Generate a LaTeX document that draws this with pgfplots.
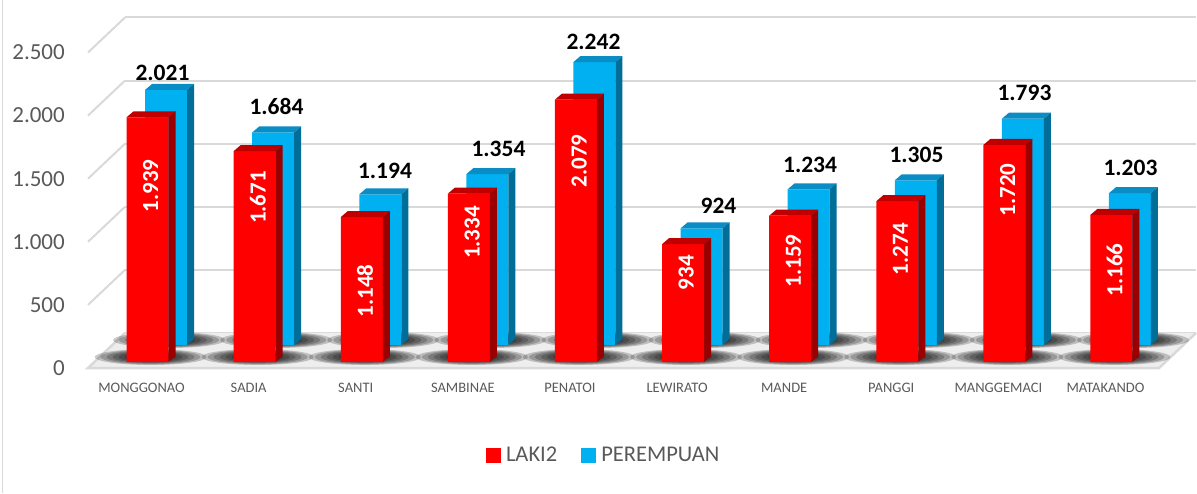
\documentclass[border=0pt]{standalone}
\usepackage{pgfplots}
\pgfplotsset{compat=1.18}
\usepackage{pgfplotstable}
\usepackage{fontspec}
\setmainfont{Carlito}
\definecolor{redface}{HTML}{FF0000}
\definecolor{redtop}{HTML}{C00000}
\definecolor{redside}{HTML}{9A0000}
\definecolor{blueface}{HTML}{00B0F0}
\definecolor{bluetop}{HTML}{0A8CC4}
\definecolor{blueside}{HTML}{006E98}
\definecolor{txtgray}{HTML}{595959}
\definecolor{gridgray}{HTML}{D9D9D9}
\definecolor{floorgray}{HTML}{EEEEEE}

\def\shadowring#1#2{%
  \pgfpathellipse{\pgfpoint{3pt}{5pt}}{\pgfpoint{#1pt}{0pt}}{\pgfpoint{0pt}{#2pt}}%
  \pgfusepath{fill}}
\pgfdeclareplotmark{shadow}{%
  \pgfsetfillcolor{black}\pgfsetfillopacity{0.2}%
  \shadowring{56}{8}\shadowring{50}{7.3}\shadowring{44}{6.6}\shadowring{38}{5.9}%
  \shadowring{32}{5.2}\shadowring{26}{4.5}\shadowring{20}{3.8}}

\def\drawfaces#1#2{%
  \pgfmathsetmacro\H{\h*0.1262}%
  \pgfpathmoveto{\pgfpoint{-21pt}{0pt}}%
  \pgfpathlineto{\pgfpoint{21pt}{0pt}}%
  \pgfpathlineto{\pgfpoint{28pt}{6pt}}%
  \pgfpathlineto{\pgfpoint{-14pt}{6pt}}%
  \pgfpathclose
  \pgfsetfillcolor{#1}\pgfusepath{fill}%
  \pgfpathmoveto{\pgfpoint{21pt}{0pt}}%
  \pgfpathlineto{\pgfpoint{28pt}{6pt}}%
  \pgfpathlineto{\pgfpoint{28pt}{6pt-\H pt}}%
  \pgfpathlineto{\pgfpoint{21pt}{-\H pt}}%
  \pgfpathclose
  \pgfsetfillcolor{#2}\pgfusepath{fill}}

\pgfplotstableread{
x laki perempuan lbl pbl rly bly blx
0 1939 2021 1.939 2.021 1395 2155 -0.033
1 1671 1684 1.671 1.684 1303 1890 1.031
2 1148 1194 1.148 1.194 563 1383 2.044
3 1334 1354 1.334 1.354 1026 1557 3.104
4 2079 2242 2.079 2.242 1593 2405 3.991
5 934 924 934 924 709 1105 5.158
6 1159 1234 1.159 1.234 800 1430 6.013
7 1274 1305 1.274 1.305 895 1506 7.007
8 1720 1793 1.720 1.793 1363 2001 8.015
9 1166 1203 1.166 1.203 729 1406 9.005
}\data

\pgfplotsset{base/.style={scale only axis, width=1071pt, height=315.5pt,
  xmin=-0.5, xmax=9.5, ymin=0, ymax=2500, enlargelimits=false,
  clip=false, anchor=south west}}

\begin{document}
\begin{tikzpicture}
\useasboundingbox (0,0) rectangle (1197pt,493pt);
\draw[gray!30, line width=1.5pt] (2.5pt,0pt) -- (2.5pt,493pt);
% back wall with gridlines
\begin{axis}[base, at={(125pt,160pt)}, axis line style={draw=none},
  major tick length=0pt, xtick=\empty, ytick={0,500,...,2500}, yticklabels={},
  ymajorgrids, major grid style={gridgray, line width=2pt}]
\addplot[draw=none] coordinates {(0,0)};
\end{axis}
% floor and tick labels
\begin{axis}[base, at={(88pt,125pt)}, axis line style={draw=none},
  major tick length=0pt,
  xtick={0,...,9},
  xticklabels={MONGGONAO,SADIA,SANTI,SAMBINAE,PENATOI,LEWIRATO,MANDE,PANGGI,MANGGEMACI,MATAKANDO},
  ytick={0,500,...,2500}, yticklabels={0,500,1.000,1.500,2.000,2.500},
  yticklabel style={font=\fontsize{23}{23}\selectfont, text=txtgray, anchor=east, inner sep=0pt, xshift=-23pt},
  xticklabel style={font=\fontsize{14.5}{14.5}\selectfont, text=txtgray, anchor=north, inner sep=0pt, yshift=-15pt}]
\fill[floorgray] (rel axis cs:0,0) -- (rel axis cs:1,0) -- ++(37pt,35pt)
  -- ([shift={(37pt,35pt)}]rel axis cs:0,0) -- cycle;
\draw[gridgray, line width=2.5pt] ([shift={(37pt,35pt)}]rel axis cs:0,0) -- (rel axis cs:0,0) -- (rel axis cs:1,0) -- ++(37pt,35pt);
\pgfplotsinvokeforeach{500,1000,1500,2000,2500}{
  \draw[gridgray, line width=2pt] (axis cs:-0.5,#1) -- ++(37pt,35pt);
}
\addplot[draw=none] coordinates {(0,0)};
\end{axis}
% floor shadows, back row and front row
\begin{axis}[base, hide axis, at={(112.5pt,148pt)}]
\addplot[only marks, mark=shadow] table[x=x, y expr=0]{\data};
\end{axis}
\begin{axis}[base, hide axis, at={(94pt,131pt)}]
\addplot[only marks, mark=shadow] table[x=x, y expr=0]{\data};
\end{axis}
% back row: PEREMPUAN
\begin{axis}[base, hide axis, at={(112.5pt,148pt)}]
\addplot[ybar, bar width=42pt, bar shift=0pt, fill=blueface, draw=none] table[x=x, y=perempuan]{\data};
\addplot[scatter, only marks, mark=*, mark size=0pt,
  visualization depends on={\thisrow{perempuan}\as\h},
  scatter/@pre marker code/.code={\pgfscope\drawfaces{bluetop}{blueside}},
  scatter/@post marker code/.code={\endpgfscope}] table[x=x, y=perempuan]{\data};
\addplot[draw=none, mark=none, nodes near coords, point meta=explicit symbolic,
  every node near coord/.append style={anchor=center, text=black, inner sep=0pt,
  font=\bfseries\fontsize{23.5}{23.5}\selectfont}] table[x=blx, y=bly, meta=pbl]{\data};
\end{axis}
% front row: LAKI2
\begin{axis}[base, hide axis, at={(94pt,131pt)},
  legend style={at={(0.475,-0.2948)}, anchor=center, draw=none, fill=none, inner sep=0pt,
    legend columns=-1, font=\fontsize{22.5}{22.5}\selectfont, text=txtgray,
    /tikz/every odd column/.append style={column sep=5pt},
    /tikz/every even column/.append style={column sep=24pt},
    nodes={inner sep=0pt}},
  legend cell align=left,
  legend image code/.code={\fill[#1] (0pt,-7.5pt) rectangle (15pt,7.5pt);}]
\addlegendimage{fill=redface, draw=none}\addlegendentry{LAKI2}
\addlegendimage{fill=blueface, draw=none}\addlegendentry{PEREMPUAN}
\addplot[forget plot, ybar, bar width=42pt, bar shift=0pt, fill=redface, draw=none] table[x=x, y=laki]{\data};
\addplot[forget plot, scatter, only marks, mark=*, mark size=0pt,
  visualization depends on={\thisrow{laki}\as\h},
  scatter/@pre marker code/.code={\pgfscope\drawfaces{redtop}{redside}},
  scatter/@post marker code/.code={\endpgfscope}] table[x=x, y=laki]{\data};
\addplot[forget plot, draw=none, mark=none, nodes near coords, point meta=explicit symbolic,
  every node near coord/.append style={anchor=center, rotate=90, text=white, inner sep=0pt,
  font=\bfseries\fontsize{23}{23}\selectfont}] table[x expr=\thisrow{x}+0.03, y=rly, meta=lbl]{\data};
\end{axis}
\end{tikzpicture}
\end{document}
